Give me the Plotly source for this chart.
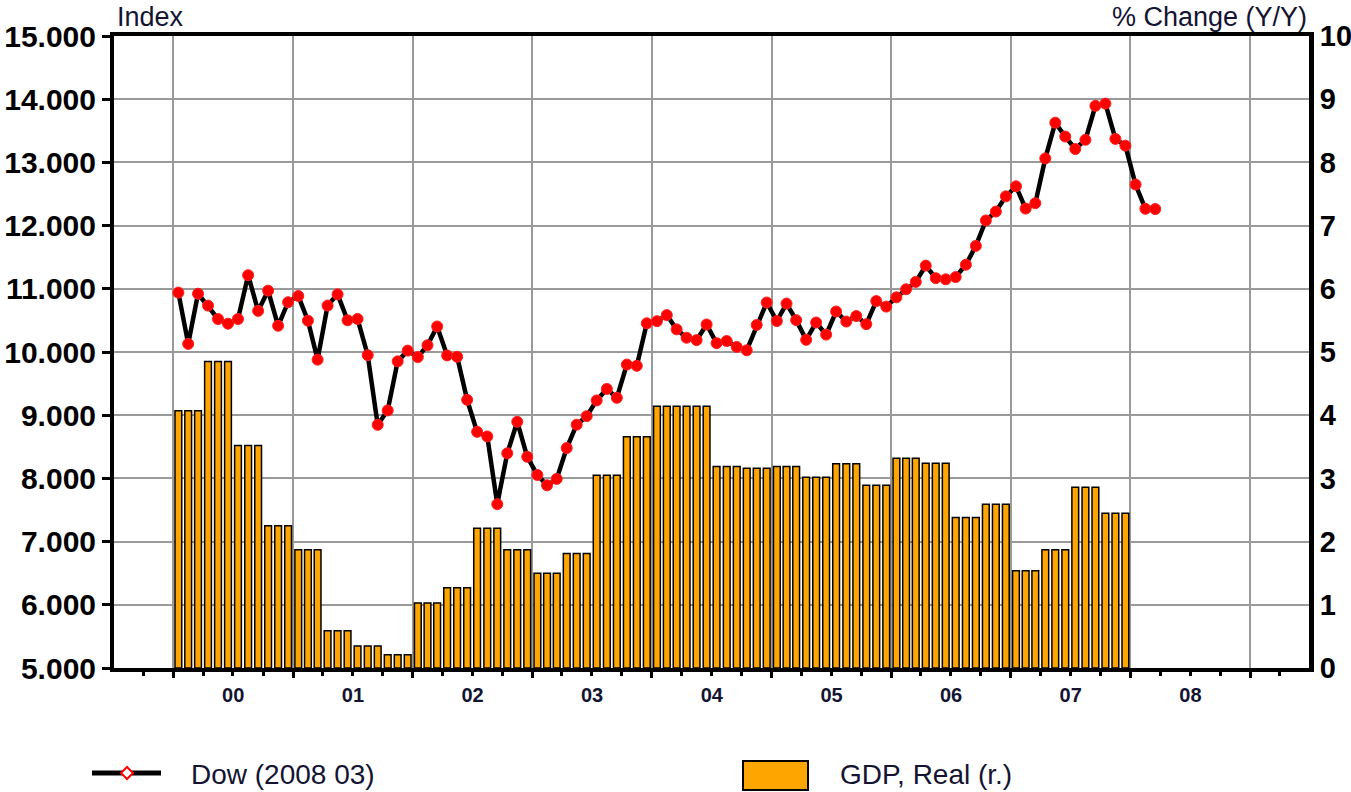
import pandas as pd
import plotly.graph_objects as go

# ---------------- data ----------------
dow_start = "2000-01-01"
dow_values = [
    10940, 10128, 10922, 10734, 10522, 10448, 10522, 11215, 10651, 10971, 10415, 10788,  # 2000
    10887, 10495, 9879, 10735, 10912, 10502, 10523, 9950, 8848, 9075, 9852, 10022,       # 2001
    9920, 10106, 10404, 9946, 9925, 9243, 8737, 8664, 7592, 8397, 8896, 8342,            # 2002
    8054, 7891, 7992, 8480, 8850, 8985, 9234, 9416, 9275, 9801, 9782, 10454,             # 2003
    10488, 10584, 10358, 10226, 10188, 10435, 10140, 10174, 10080, 10027, 10428, 10783,  # 2004
    10490, 10766, 10504, 10193, 10467, 10275, 10641, 10482, 10569, 10440, 10806, 10718,  # 2005
    10865, 10993, 11109, 11367, 11168, 11150, 11186, 11381, 11679, 12081, 12222, 12463,  # 2006
    12622, 12269, 12354, 13063, 13628, 13409, 13212, 13358, 13896, 13930, 13372, 13265,  # 2007
    12650, 12266, 12262,                                                                 # 2008
]

gdp_start = "2000-01-01"
gdp_quarterly = [
    4.07, 4.85, 3.52, 2.25,   # 2000
    1.87, 0.59, 0.35, 0.21,   # 2001
    1.03, 1.27, 2.21, 1.87,   # 2002
    1.50, 1.81, 3.05, 3.66,   # 2003
    4.14, 4.14, 3.19, 3.16,   # 2004
    3.19, 3.02, 3.23, 2.89,   # 2005
    3.32, 3.24, 2.38, 2.59,   # 2006
    1.54, 1.87, 2.86, 2.45,   # 2007
]

year_labels_format = "%y"
dow_name = "Dow (2008 03)"
gdp_name = "GDP, Real (r.)"
left_title = "Index"
right_title = "% Change (Y/Y)"

# monthly positions (each quarter's value is shown on its three months)
dow_dates = pd.date_range(dow_start, periods=len(dow_values), freq="MS")
gdp_monthly = [v for v in gdp_quarterly for _ in range(3)]
gdp_dates = pd.date_range(gdp_start, periods=len(gdp_monthly), freq="MS")

# ---------------- styling ----------------
TXT = "#141432"
GRID = "#9a9a9a"
FONT = "Liberation Sans, Arial, sans-serif"

L, R, T, B = 114, 42, 36, 124
W, H = 1351, 792
PW, PH = W - L - R, H - T - B


def px(xp):
    return (xp - L) / PW


def py(yp):
    return (H - B - yp) / PH


fig = go.Figure()

fig.add_trace(go.Bar(
    x=gdp_dates, y=gdp_monthly, name=gdp_name,
    xperiod="M1", xperiodalignment="middle",
    marker=dict(color="#FFA500", line=dict(color="black", width=1.5)),
    yaxis="y", showlegend=False,
))

fig.add_trace(go.Scatter(
    x=dow_dates, y=dow_values, name=dow_name,
    xperiod="M1", xperiodalignment="middle",
    mode="lines+markers",
    line=dict(color="black", width=4.5),
    marker=dict(symbol="circle", size=11, color="#ff0000",
                line=dict(color="#ff2020", width=1)),
    yaxis="y2", showlegend=False,
))

fig.update_layout(
    width=W, height=H,
    margin=dict(l=L, r=R, t=T, b=B, autoexpand=False),
    paper_bgcolor="white", plot_bgcolor="white",
    separators=",.",
    bargap=0.3,
    showlegend=False,
    font=dict(family=FONT, color=TXT),
    xaxis=dict(
        type="date",
        range=["1999-07-04", "2009-06-29"],
        tickmode="linear", tick0="2000-01-01", dtick="M12",
        ticklabelmode="period", tickformat=year_labels_format,
        tickfont=dict(family=FONT, size=20, color=TXT, weight="bold"),
        showgrid=True, gridcolor=GRID, gridwidth=2,
        ticks="outside", ticklen=6, tickwidth=3, tickcolor="black",
        minor=dict(dtick="M3", tick0="2000-01-01", ticks="outside",
                   ticklen=4, tickwidth=3, tickcolor="black", showgrid=False),
        showline=True, linewidth=4, linecolor="black", mirror=True,
        zeroline=False, fixedrange=True, automargin=False,
    ),
    yaxis=dict(
        range=[0, 10], dtick=1, side="right",
        showgrid=True, gridcolor=GRID, gridwidth=2,
        showline=True, linewidth=5, linecolor="black",
        ticks="", ticklen=0,
        tickfont=dict(family=FONT, size=29, color="black", weight="bold"),
        zeroline=False, fixedrange=True, automargin=False,
    ),
    yaxis2=dict(
        range=[5000, 15000], dtick=1000, side="left", overlaying="y",
        tickformat=",d",
        showgrid=False,
        showline=True, linewidth=4, linecolor="black",
        ticks="outside", ticklen=8, tickwidth=3, tickcolor="black",
        tickfont=dict(family=FONT, size=30, color="black", weight="bold"),
        zeroline=False, fixedrange=True, automargin=False,
    ),
)

# axis titles
fig.add_annotation(text=left_title, xref="paper", yref="paper",
                   x=px(115), y=py(17), xanchor="left", yanchor="middle",
                   showarrow=False, font=dict(family=FONT, size=27, color=TXT))
fig.add_annotation(text=right_title, xref="paper", yref="paper",
                   x=px(1309), y=py(17), xanchor="right", yanchor="middle",
                   showarrow=False, font=dict(family=FONT, size=27, color=TXT))

# custom legend
fig.add_shape(type="line", xref="paper", yref="paper",
              x0=px(92), x1=px(161), y0=py(773), y1=py(773),
              line=dict(color="black", width=5))
fig.add_shape(type="path", xref="paper", yref="paper",
              path=(f"M {px(127)} {py(767)} L {px(133)} {py(773)} "
                    f"L {px(127)} {py(779)} L {px(121)} {py(773)} Z"),
              fillcolor="white", line=dict(color="#ff0000", width=2))
fig.add_annotation(text=dow_name, xref="paper", yref="paper",
                   x=px(189), y=py(774), xanchor="left", yanchor="middle",
                   showarrow=False, font=dict(family=FONT, size=28, color=TXT))

fig.add_shape(type="rect", xref="paper", yref="paper",
              x0=px(743), x1=px(808), y0=py(761), y1=py(790),
              fillcolor="#FFA500", line=dict(color="black", width=2))
fig.add_annotation(text=gdp_name, xref="paper", yref="paper",
                   x=px(838), y=py(774), xanchor="left", yanchor="middle",
                   showarrow=False, font=dict(family=FONT, size=28, color=TXT))

fig.write_html(
    "out.html",
    config={"displayModeBar": False, "staticPlot": True},
    post_script="document.body.style.margin='0';document.body.style.overflow='hidden';",
)
